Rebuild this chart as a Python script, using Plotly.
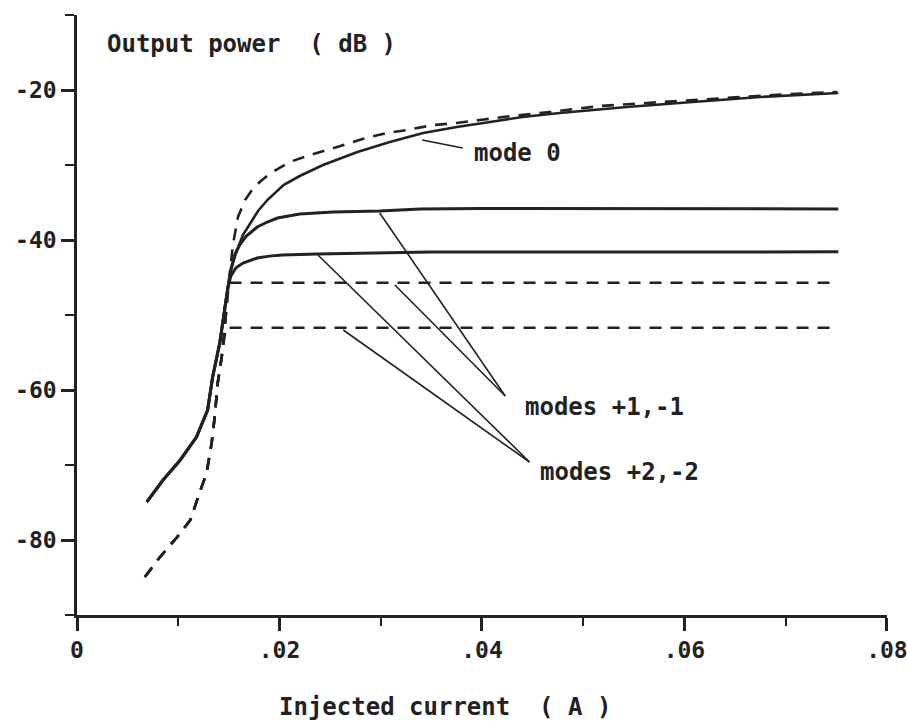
import plotly.graph_objects as go

# ---- data ----
# shared sub-threshold part, solid curves
solid_low_x = [0.0069, 0.0085, 0.0102, 0.0118, 0.0129, 0.0134, 0.0141, 0.0146, 0.0149]
solid_low_y = [-74.93, -72.0, -69.33, -66.27, -62.67, -58.27, -53.73, -49.33, -46.27]

# mode 0, solid
mode0_solid_x = [0.0153, 0.0158, 0.0164, 0.0171, 0.0179, 0.0188, 0.0204, 0.0220, 0.0243,
                 0.0277, 0.0309, 0.0342, 0.0375, 0.0408, 0.0440, 0.0477, 0.0543, 0.0608,
                 0.0675, 0.0752]
mode0_solid_y = [-43.5, -41.33, -39.3, -37.73, -36.1, -34.67, -32.67, -31.47, -30.0,
                 -28.27, -26.93, -25.73, -24.93, -24.27, -23.6, -23.07, -22.27, -21.6,
                 -20.93, -20.4]

# modes +1,-1, solid
mode1_solid_x = [0.0152, 0.0156, 0.0161, 0.0167, 0.0178, 0.0188, 0.0198, 0.0220, 0.0253,
                 0.0299, 0.0339, 0.0400, 0.0500, 0.0600, 0.0700, 0.0752]
mode1_solid_y = [-43.9, -41.9, -40.6, -39.5, -38.27, -37.6, -37.07, -36.53, -36.27,
                 -36.13, -35.87, -35.8, -35.8, -35.8, -35.8, -35.85]

# modes +2,-2, solid
mode2_solid_x = [0.0152, 0.0157, 0.0164, 0.0171, 0.0178, 0.0190, 0.0203, 0.0237, 0.0286,
                 0.0350, 0.0450, 0.0550, 0.0650, 0.0752]
mode2_solid_y = [-44.8, -43.7, -43.07, -42.7, -42.4, -42.15, -42.0, -41.87, -41.73,
                 -41.6, -41.6, -41.55, -41.6, -41.56]

# shared sub-threshold part, dashed curves
dashed_low_x = [0.0067, 0.0082, 0.0099, 0.0112, 0.0121, 0.0128, 0.0133, 0.0136, 0.0139, 0.0143]
dashed_low_y = [-84.93, -82.27, -79.6, -77.33, -73.73, -71.07, -67.07, -63.6, -59.07, -55.6]

# mode 0, dashed
mode0_dashed_x = [0.0146, 0.0149, 0.0154, 0.0159, 0.0166, 0.0173, 0.0181, 0.0191, 0.0210,
                  0.0230, 0.0257, 0.0282, 0.0306, 0.0326, 0.0352, 0.0375, 0.0398, 0.0421,
                  0.0467, 0.0517, 0.0563, 0.0610, 0.0657, 0.0704, 0.0751]
mode0_dashed_y = [-51.6, -46.67, -40.67, -36.93, -34.67, -33.3, -32.2, -31.1, -29.6,
                  -28.67, -27.6, -26.53, -25.73, -25.33, -24.67, -24.4, -24.0, -23.6,
                  -22.93, -22.13, -21.73, -21.33, -20.93, -20.53, -20.27]

# modes +1,-1, dashed
mode1_dashed_x = [0.0146, 0.0150, 0.0752]
mode1_dashed_y = [-51.6, -45.7, -45.7]

# modes +2,-2, dashed
mode2_dashed_x = [0.0147, 0.0752]
mode2_dashed_y = [-51.7, -51.7]

# labels and their leader lines (data units)
label_texts = ["mode 0", "modes +1,-1", "modes +2,-2"]
label_x = [0.0390, 0.04405, 0.04553]
label_y = [-28.4, -62.27, -70.93]
leaders = [
    ([0.0341, 0.0381], [-26.67, -27.73]),
    ([0.0299, 0.0423], [-36.4, -60.8]),
    ([0.0314, 0.0423], [-46.0, -60.8]),
    ([0.0238, 0.0447], [-42.0, -69.6]),
    ([0.0263, 0.0447], [-52.0, -69.6]),
]

x_tickvals = [0, 0.02, 0.04, 0.06, 0.08]
x_ticktext = ["0", ".02", ".04", ".06", ".08"]
y_tickvals = [-80, -60, -40, -20]
y_ticktext = ["-80", "-60", "-40", "-20"]

INK = "#222222"
FONT = "DejaVu Sans Mono"
DASH = "12px,9px"

fig = go.Figure()

def add(xs, ys, dash=None, width=2.6):
    fig.add_trace(go.Scatter(x=xs, y=ys, mode="lines",
                             line=dict(color=INK, width=width, dash=dash),
                             hoverinfo="skip", showlegend=False))

add(solid_low_x + mode0_solid_x, solid_low_y + mode0_solid_y)
add(solid_low_x + mode1_solid_x, solid_low_y + mode1_solid_y, width=3)
add(solid_low_x + mode2_solid_x, solid_low_y + mode2_solid_y, width=3)
add(dashed_low_x + mode0_dashed_x, dashed_low_y + mode0_dashed_y, dash=DASH)
add(dashed_low_x + mode1_dashed_x, dashed_low_y + mode1_dashed_y, dash=DASH)
add(dashed_low_x + mode2_dashed_x, dashed_low_y + mode2_dashed_y, dash=DASH)

for lx, ly in leaders:
    fig.add_trace(go.Scatter(x=lx, y=ly, mode="lines",
                             line=dict(color=INK, width=1.6),
                             hoverinfo="skip", showlegend=False))

TEXTFONT = dict(family=FONT, size=24, color=INK, weight="bold")

for t, x, y in zip(label_texts, label_x, label_y):
    fig.add_annotation(x=x, y=y, xref="x", yref="y", text=t, showarrow=False,
                       xanchor="left", yanchor="middle", font=TEXTFONT)

fig.add_annotation(x=0.0028, y=-13.87, xref="x", yref="y",
                   text="Output power\u00a0\u00a0( dB )", showarrow=False,
                   xanchor="left", yanchor="middle", font=TEXTFONT)
fig.add_annotation(x=0.4543, y=-0.153, xref="paper", yref="paper",
                   text="Injected current\u00a0\u00a0( A )", showarrow=False,
                   xanchor="center", yanchor="middle", font=TEXTFONT)

axis_common = dict(showgrid=False, zeroline=False, showline=True, linecolor=INK,
                   linewidth=2.5, ticks="outside", ticklen=13, tickwidth=2.5,
                   tickcolor=INK, ticklabeloverflow="allow", automargin=False,
                   tickfont=dict(family=FONT, size=23, color=INK, weight="bold"))

fig.update_xaxes(range=[0, 0.08001], tickmode="array", tickvals=x_tickvals,
                 ticktext=x_ticktext,
                 minor=dict(ticks="outside", ticklen=8, tickwidth=2.2, tickcolor=INK,
                            dtick=0.01, tick0=0, showgrid=False),
                 **axis_common)
fig.update_yaxes(range=[-90, -10], tickmode="array", tickvals=y_tickvals,
                 ticktext=y_ticktext,
                 minor=dict(ticks="outside", ticklen=9, tickwidth=2.2, tickcolor=INK,
                            dtick=10, tick0=0, showgrid=False),
                 **axis_common)

fig.update_layout(width=907, height=723, margin=dict(l=77, r=20, t=15, b=108, autoexpand=False),
                  plot_bgcolor="white", paper_bgcolor="white")

fig.write_html("out.html")
